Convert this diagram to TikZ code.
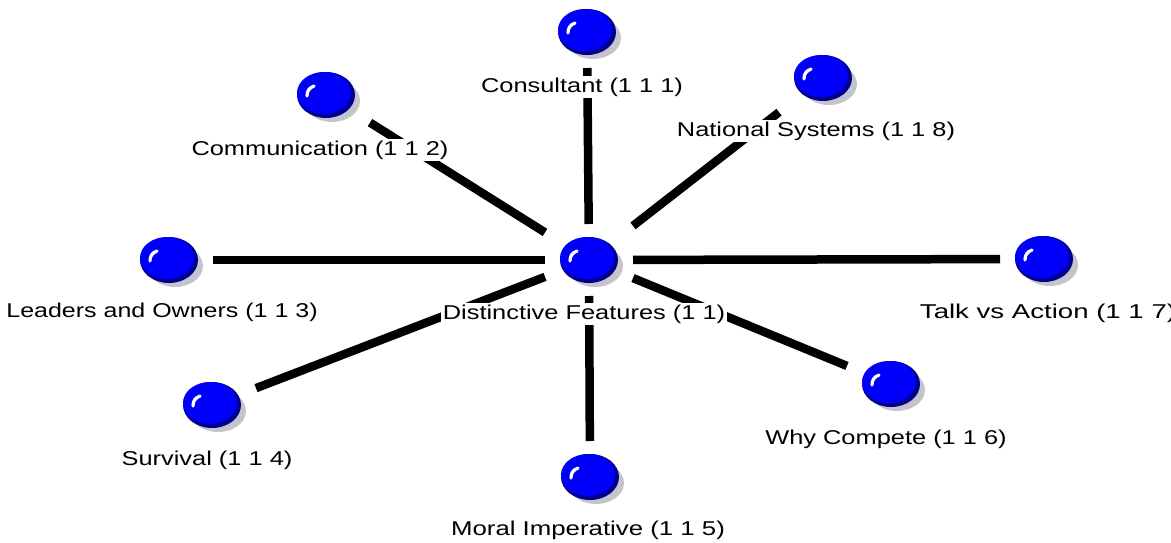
\documentclass[tikz,border=0pt]{standalone}
\usepackage{fontspec}
\setmainfont{Liberation Sans}
\definecolor{ballblue}{RGB}{0,0,250}
\definecolor{balldark}{RGB}{0,0,140}
\definecolor{shadowgray}{RGB}{196,196,204}
\newcommand\lblstretch[2][1.27]{\scalebox{#1}[1]{#2}}
\tikzset{
  glossyball/.pic={
    \fill[shadowgray] (6,6) ellipse [x radius=28, y radius=21];
    \fill[balldark] (0,0) ellipse [x radius=29, y radius=23];
    \fill[ballblue] (-2,-2) ellipse [x radius=27, y radius=21];
    \draw[white, line width=3.2pt, line cap=round] (-19,1) .. controls (-19,-4) and (-17,-7) .. (-12,-9);
  },
  hub/.style={rectangle, minimum width=88pt, minimum height=72pt, inner sep=0pt, outer sep=0pt},
  conn/.style={line width=8.5pt, black},
  lbl/.style={fill=white, inner sep=2pt, font=\fontsize{20}{24}\selectfont, text=black}
}
\begin{document}
\begin{tikzpicture}[x=1pt,y=-1pt]
  \fill[white] (0,0) rectangle (1171,543);
  \useasboundingbox (0,0) rectangle (1171,543);
  % ball anchors
  \node[hub] (F)     at (589,260) {};
  \node[hub] (Cons)  at (587,32)  {};
  \node[hub] (Comm)  at (326,95)  {};
  \node[hub] (Nat)   at (823,78)  {};
  \node[hub] (Lead)  at (169,260) {};
  \node[hub] (Talk)  at (1044,259) {};
  \node[hub] (Surv)  at (212,405) {};
  \node[hub] (Moral) at (590,477) {};
  \node[hub] (Why)   at (891,384) {};
  % connectors
  \draw[conn] (F) -- (Cons);
  \draw[conn] (F) -- (Comm);
  \draw[conn] (F) -- (Nat);
  \draw[conn] (F) -- (Lead);
  \draw[conn] (F) -- (Talk);
  \draw[conn] (F) -- (Surv);
  \draw[conn] (F) -- (Moral);
  \draw[conn] (F) -- (Why);
  % labels
  \node[lbl] (lCons)  at (582,87)  {\lblstretch{Consultant (1 1 1)}};
  \node[lbl] (lComm)  at (320,150) {\lblstretch{Communication (1 1 2)}};
  \node[lbl] (lNat)   at (816,131) {\lblstretch{National Systems (1 1 8)}};
  \node[lbl] (lLead)  at (162,312) {\lblstretch[1.25]{Leaders and Owners (1 1 3)}};
  \node[lbl] (lF)     at (584,314) {\lblstretch{Distinctive Features (1 1)}};
  \node[lbl] (lTalk)  at (1048,313) {\lblstretch[1.38]{Talk vs Action (1 1 7)}};
  \node[lbl] (lSurv)  at (207,460) {\lblstretch{Survival (1 1 4)}};
  \node[lbl] (lMoral) at (588,530) {\lblstretch[1.29]{Moral Imperative (1 1 5)}};
  \node[lbl] (lWhy)   at (886,439) {\lblstretch{Why Compete (1 1 6)}};
  % balls
  \foreach \n in {F,Cons,Comm,Nat,Lead,Talk,Surv,Moral,Why}
    \path (\n.center) pic {glossyball};
\end{tikzpicture}
\end{document}
